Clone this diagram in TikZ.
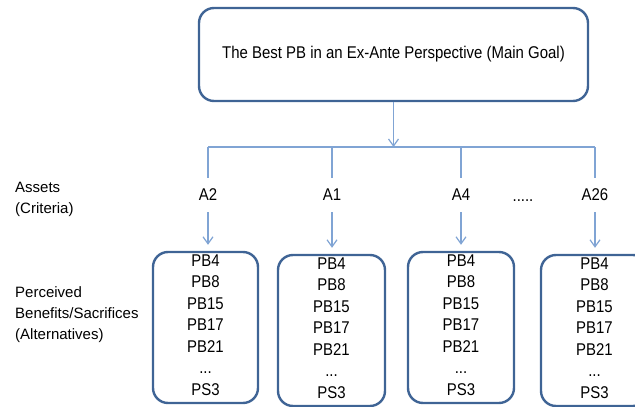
\documentclass[tikz,border=0pt]{standalone}
\usepackage{fontspec}
\setmainfont{Liberation Sans}
\newfontfamily\narrowsans{Liberation Sans}[FakeStretch=0.88]
\usetikzlibrary{arrows.meta}
\definecolor{boxblue}{HTML}{3F6495}
\definecolor{linkblue}{HTML}{80A4D4}
\begin{document}
\begin{tikzpicture}[x=1pt,y=-1pt,
  every node/.style={font=\narrowsans\fontsize{17}{21.5}\selectfont, text=black},
  goalbox/.style={draw=boxblue, line width=2.4pt, rounded corners=15pt,
    minimum width=389pt, minimum height=93pt, inner sep=0pt},
  altbox/.style={draw=boxblue, line width=2.4pt, rounded corners=15pt,
    minimum height=151pt, inner sep=0pt, align=center},
  crit/.style={minimum height=34pt, inner sep=0pt},
  link/.style={draw=linkblue, line width=1.2pt},
  tip/.style={-{Straight Barb[length=7pt,width=10pt]}},
  side/.style={align=left, anchor=north west, inner sep=0pt,
    font=\fontsize{15}{21}\selectfont}]
\useasboundingbox (0,0) rectangle (635,407);
\clip (0,0) rectangle (635,407);

% main goal
\node[goalbox] (goal) at (393.5,54.5)
  {The Best PB in an Ex-Ante Perspective (Main Goal)};
\coordinate (hub) at (393.5,147);

% criteria
\node[crit] (a2)  at (208,195) {A2};
\node[crit] (a1)  at (332,195) {A1};
\node[crit] (a4)  at (461,195) {A4};
\node[crit] (a26) at (595,195) {A26};
\node[anchor=base, inner sep=0pt] (more) at (523,201) {.....};

% alternatives
\newcommand{\altlist}{PB4\\PB8\\PB15\\PB17\\PB21\\...\\PS3\rule[-5pt]{0pt}{5pt}}
\node[altbox, minimum width=105pt] (b1) at (205.5,327.5) {\altlist};
\node[altbox, minimum width=107pt] (b2) at (331.5,330.5) {\altlist};
\node[altbox, minimum width=106pt] (b3) at (461,327.5) {\altlist};
\node[altbox, minimum width=107pt] (b4) at (594.5,330.5) {\altlist};

% side captions
\node[side] (lcrit) at (15,182) {Assets\\(Criteria)};
\node[side] (lalt) at (15,286) {Perceived\\Benefits/Sacrifices\\(Alternatives)};

% connectors
\draw[link, tip] (goal.south) -- (hub);
\draw[link] (a2.north |- hub) -- (a26.north |- hub);
\foreach \c in {a2,a1,a4,a26}
  \draw[link] (\c.north |- hub) -- (\c.north);
\draw[link, tip, shorten >=6pt] (a2.south) -- (a2.south |- b1.north);
\draw[link, tip, shorten >=6pt] (a1.south) -- (a1.south |- b2.north);
\draw[link, tip, shorten >=6pt] (a4.south) -- (a4.south |- b3.north);
\draw[link, tip, shorten >=6pt] (a26.south) -- (a26.south |- b4.north);
\end{tikzpicture}
\end{document}
